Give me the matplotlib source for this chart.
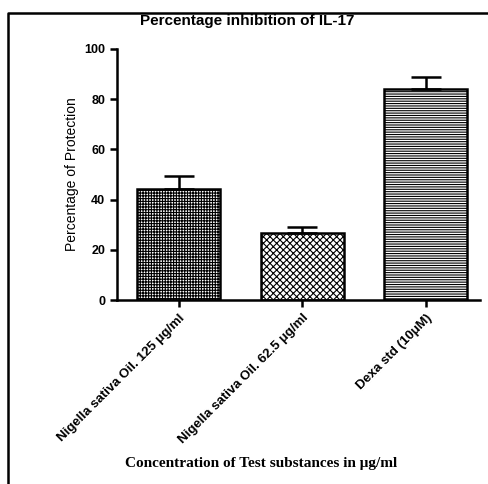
import matplotlib.pyplot as plt
from matplotlib.lines import Line2D

# Data
categories = ['Nigella sativa Oil. 125 μg/ml', 'Nigella sativa Oil. 62.5 μg/ml', 'Dexa std (10μM)']
values = [44.2, 26.7, 84.1]
errors = [5.2, 2.3, 4.7]
hatches = ['++++++', 'xxxxx', '-------']

plt.rcParams['font.family'] = ['Liberation Sans', 'DejaVu Sans']
plt.rcParams['hatch.linewidth'] = 0.8

fig = plt.figure(figsize=(4.89, 4.84), dpi=100)
ax = fig.add_axes([0.239, 0.380, 0.743, 0.519])

x = range(len(categories))
for i in x:
    ax.bar(i, values[i], width=0.67, color='white', edgecolor='black',
           linewidth=1.8, hatch=hatches[i], zorder=2)
ax.errorbar(list(x), values, yerr=[[0] * len(errors), errors], fmt='none',
            ecolor='black', elinewidth=1.8, capsize=11, capthick=1.8, zorder=3)

ax.set_xlim(-0.5, 2.44)
ax.set_ylim(0, 100)
ax.set_yticks([0, 20, 40, 60, 80, 100])
ax.spines['top'].set_visible(False)
ax.spines['right'].set_visible(False)
ax.spines['left'].set_linewidth(1.8)
ax.spines['bottom'].set_linewidth(1.8)
ax.tick_params(width=1.8, length=5)
for lbl in ax.get_yticklabels():
    lbl.set_fontweight('bold')
    lbl.set_fontsize(9)
ax.set_xticks(list(x))
ax.set_xticklabels(categories, rotation=45, ha='right', rotation_mode='anchor',
                   fontsize=9.5, fontweight='bold')
ax.set_ylabel('Percentage of Protection', fontsize=10, labelpad=4)

fig.text(0.505, 0.957, 'Percentage inhibition of IL-17', ha='center', va='center',
         fontsize=11, fontweight='bold')
fig.text(0.535, 0.043, 'Concentration of Test substances in μg/ml', ha='center', va='center',
         fontsize=11, fontweight='bold', family=['Liberation Serif', 'DejaVu Serif'])

# outer frame (top and left edges)
fig.add_artist(Line2D([8 / 489, 8 / 489, 1.0], [0.0, 1 - 13 / 484, 1 - 13 / 484],
                      transform=fig.transFigure, color='black', linewidth=1.8))

fig.savefig('out.png', dpi=100)
